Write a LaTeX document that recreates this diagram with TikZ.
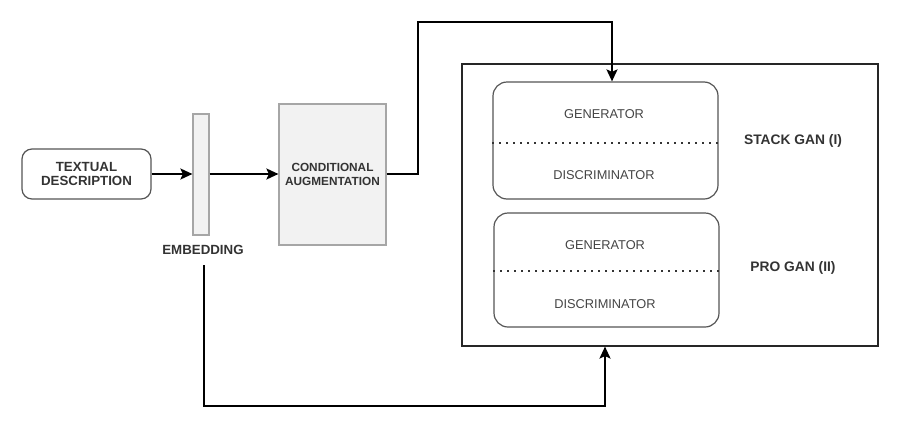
\documentclass[tikz,border=0pt]{standalone}
\usepackage{fontspec}
\setmainfont{Liberation Sans}
\usetikzlibrary{arrows.meta}
\definecolor{txt}{HTML}{333333}
\definecolor{lt}{HTML}{444444}
\definecolor{fillg}{HTML}{F2F2F2}
\definecolor{edge}{HTML}{555555}
\tikzset{
  conn/.style={draw=black, line width=2pt, -{Stealth[length=12pt,width=11pt,inset=2.5pt]}},
  roundbox/.style={draw=edge, line width=1.2pt, rounded corners=12pt, inner sep=0pt},
  graybox/.style={draw=gray!70, fill=fillg, line width=1.2pt, inner sep=0pt},
  boldlbl/.style={font=\bfseries\fontsize{13.3}{14.5}\selectfont, text=txt, align=center},
  smalllbl/.style={font=\bfseries\fontsize{11.8}{13.5}\selectfont, text=txt, align=center},
  partlbl/.style={font=\fontsize{12.8}{14}\selectfont, text=lt},
  ganlbl/.style={font=\bfseries\fontsize{13.8}{15}\selectfont, text=txt},
  dotline/.style={draw=black!80, line width=1.2pt, dash pattern=on 1.3pt off 5.7pt}
}
\begin{document}
\begin{tikzpicture}[x=1pt,y=-1pt]
\useasboundingbox (0,0) rectangle (907,426);
% nodes
\node[roundbox, minimum width=129pt, minimum height=50pt, rounded corners=10pt, boldlbl] (td) at (86.5,174) {TEXTUAL\\DESCRIPTION};
\node[graybox, minimum width=16pt, minimum height=121pt] (emb) at (201,174.5) {};
\node[boldlbl] (emblbl) at (203,250) {EMBEDDING};
\node[graybox, minimum width=107pt, minimum height=141pt, smalllbl] (ca) at (332.5,174.5) {CONDITIONAL\\AUGMENTATION};
\node[draw=black!85, line width=1.1pt, minimum width=416pt, minimum height=282pt, inner sep=0pt] (outer) at (670,205) {};
\node[roundbox, minimum width=225pt, minimum height=117pt, rounded corners=14pt] (g1) at (605.5,140.5) {};
\node[roundbox, minimum width=225pt, minimum height=114pt, rounded corners=14pt] (g2) at (606.5,270) {};
\node[partlbl] (gen1) at (604,114) {GENERATOR};
\node[partlbl] (dis1) at (604,175) {DISCRIMINATOR};
\node[partlbl] (gen2) at (605,245) {GENERATOR};
\node[partlbl] (dis2) at (605,304) {DISCRIMINATOR};
\node[ganlbl] (stack) at (793,141) {STACK GAN (I)};
\node[ganlbl] (pro) at (793,268) {PRO GAN (II)};
% dotted separators
\coordinate (d1l) at (g1.west |- 0,143);
\coordinate (d1r) at (g1.east |- 0,143);
\coordinate (d2l) at (g2.west |- 0,271);
\coordinate (d2r) at (g2.east |- 0,271);
\draw[dotline] (d1l) -- (d1r);
\draw[dotline] (d2l) -- (d2r);
% connectors
\draw[conn] (td.east) -- (emb.west |- td.east);
\draw[conn] (emb.east |- td.east) -- (ca.west |- td.east);
\coordinate (t1) at (418,22);
\coordinate (t2) at (612,22);
\draw[conn] (ca.east |- td.east) -| (t1) -- (t2) -- (t2 |- g1.north);
\coordinate (b0) at (204,265);
\coordinate (b1) at (204,406);
\coordinate (b2) at (605,406);
\draw[conn] (b0) -- (b1) -- (b2) -- (b2 |- outer.south);
\end{tikzpicture}
\end{document}
